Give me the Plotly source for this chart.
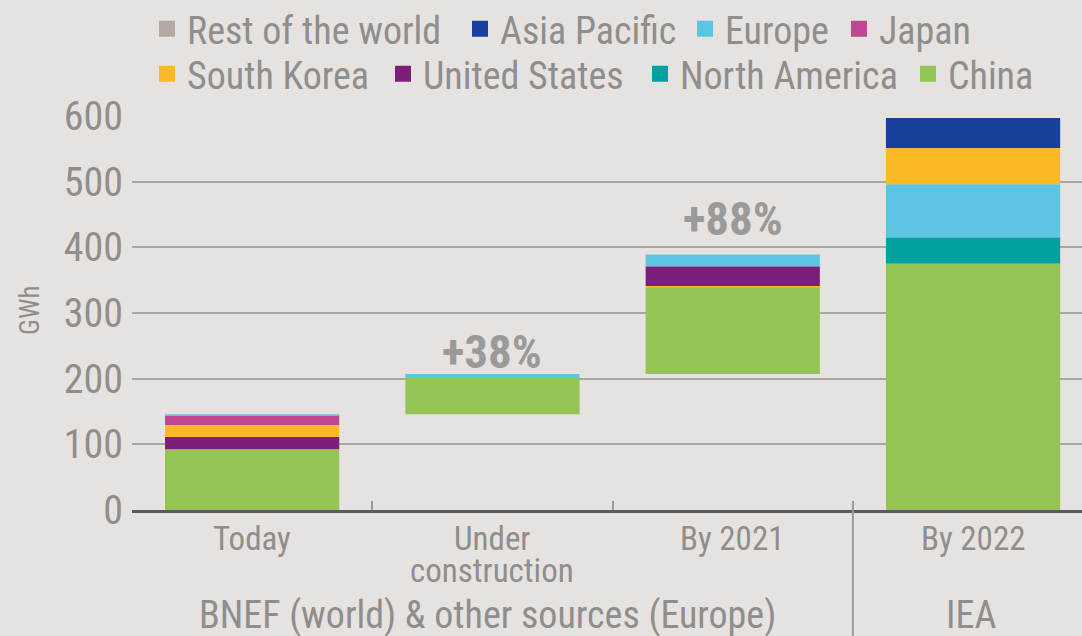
import plotly.graph_objects as go

# ---------------- data ----------------
categories = ["Today", "Under construction", "By 2021", "By 2022"]
tick_label_lines = [["Today"], ["Under", "construction"], ["By 2021"], ["By 2022"]]
china = [92, 55, 132, 375]
north_america = [0, 0, 0, 40]
united_states = [19, 0, 30, 0]
south_korea = [18, 0, 2, 55]
japan = [14, 0, 0, 0]
europe = [3, 6, 18, 81]
asia_pacific = [0, 0, 0, 46]
rest_of_world = [0, 0, 0, 0]
growth_labels = ["", "+38%", "+88%", ""]
group_labels = ["BNEF (world) & other sources (Europe)", "IEA"]
y_ticks = [0, 100, 200, 300, 400, 500, 600]

series = {
    "Rest of the world": rest_of_world,
    "Asia Pacific": asia_pacific,
    "Europe": europe,
    "Japan": japan,
    "South Korea": south_korea,
    "United States": united_states,
    "North America": north_america,
    "China": china,
}
colors = {
    "Rest of the world": "#b5a9a5",
    "Asia Pacific": "#17409a",
    "Europe": "#5ec4e3",
    "Japan": "#c1458f",
    "South Korea": "#fdb924",
    "United States": "#7b1f7b",
    "North America": "#00a2a0",
    "China": "#93c455",
}
# stacking order (bottom -> top) per bar, and whether the bar floats on the previous one
stack_order = [
    ["China", "United States", "South Korea", "Japan", "Europe"],
    ["China", "Europe"],
    ["China", "South Korea", "United States", "Europe"],
    ["China", "North America", "Europe", "South Korea", "Asia Pacific"],
]
floats_on_previous = [False, True, True, False]

# ---------------- layout geometry (pixels) ----------------
W, H = 1082, 636
ML, MR, MT, MB = 132, 0, 116, 126
PW, PH = W - ML - MR, H - MT - MB
# legend entries: (left of swatch, vertical centre) in pixels
legend_pos = {
    "Rest of the world": (157, 29), "Asia Pacific": (470, 29),
    "Europe": (695, 29), "Japan": (849, 29),
    "South Korea": (157, 74), "United States": (393, 74),
    "North America": (650, 74), "China": (918, 74),
}
label_shift_px = [0, 23, 36, 0]
FONT = "Liberation Sans Narrow, Roboto Condensed, Roboto, sans-serif"
GREY = "#8e8e8e"
BG = "#e6e2df"


def px_x(p):
    return (p - ML) / PW


def px_y(p):
    return (H - MB - p) / PH


# compute bases
bases = {name: [0.0] * len(categories) for name in series}
totals = []
prev_top = 0.0
for i in range(len(categories)):
    start = prev_top if floats_on_previous[i] else 0.0
    cur = start
    for name in stack_order[i]:
        bases[name][i] = cur
        cur += series[name][i]
    for name in series:
        if name not in stack_order[i]:
            bases[name][i] = cur
    totals.append(cur)
    prev_top = cur

fig = go.Figure()
legend_layouts = {}
for k, (name, vals) in enumerate(series.items()):
    lid = "legend" if k == 0 else f"legend{k + 1}"
    fig.add_trace(go.Bar(
        name=name, x=categories, y=vals, base=bases[name],
        marker=dict(color=colors[name], line=dict(width=0)),
        width=0.725, showlegend=False, legendgroup=name,
    ))
    # legend swatch (larger square than the default bar swatch)
    fig.add_trace(go.Scatter(
        name=name, x=[None], y=[None], mode="markers",
        marker=dict(symbol="square", size=20, color=colors[name], line=dict(width=0)),
        legend=lid, legendgroup=name, hoverinfo="skip",
    ))
    lx, ly = legend_pos[name]
    legend_layouts[lid] = dict(
        orientation="h", xanchor="left", yanchor="middle",
        x=px_x(lx - 10), y=px_y(ly),
        bgcolor="rgba(0,0,0,0)", borderwidth=0,
        font=dict(size=38, color=GREY, family=FONT), itemwidth=30,
    )

for i, lab in enumerate(growth_labels):
    if lab:
        fig.add_annotation(x=categories[i], y=totals[i], text="<b>" + lab + "</b>",
                           showarrow=False, xanchor="center", yanchor="middle",
                           yshift=label_shift_px[i],
                           font=dict(size=47, color="#9a9a9a", family=FONT))

# category labels (tight line spacing as in the reference)
for i, lines in enumerate(tick_label_lines):
    for j, line in enumerate(lines):
        fig.add_annotation(x=categories[i], yref="paper", y=px_y(538 + 32 * j),
                           text=line, showarrow=False, xanchor="center", yanchor="middle",
                           font=dict(size=33, color=GREY, family=FONT))

fig.add_annotation(xref="paper", yref="paper", x=px_x(487), y=px_y(615),
                   text=group_labels[0], showarrow=False, xanchor="center", yanchor="middle",
                   font=dict(size=38, color=GREY, family=FONT))
fig.add_annotation(xref="paper", yref="paper", x=px_x(971), y=px_y(615),
                   text=group_labels[1], showarrow=False, xanchor="center", yanchor="middle",
                   font=dict(size=38, color=GREY, family=FONT))
fig.add_annotation(xref="paper", yref="paper", x=px_x(30), y=px_y(310),
                   text="GWh", textangle=-90, showarrow=False,
                   xanchor="center", yanchor="middle",
                   font=dict(size=27, color=GREY, family=FONT))

# long separator line before IEA
fig.add_shape(type="line", xref="x", yref="paper", x0=2.5, x1=2.5,
              y0=px_y(502), y1=px_y(640), line=dict(color="#9a9a9a", width=2))

fig.update_layout(
    width=W, height=H,
    paper_bgcolor=BG, plot_bgcolor=BG,
    barmode="overlay",
    margin=dict(l=ML, r=MR, t=MT, b=MB, autoexpand=False),
    font=dict(family=FONT, color=GREY),
    showlegend=True,
    xaxis=dict(range=[-0.5, -0.5 + PW / 240.3], showgrid=False, showline=True,
               linecolor="#5a5a5a", linewidth=3, ticks="inside", ticklen=9,
               tickcolor="#9a9a9a", tickwidth=2, tickson="boundaries",
               showticklabels=False, zeroline=False, automargin=False),
    yaxis=dict(range=[0, 600], tickvals=y_ticks,
               showgrid=True, gridcolor="#a9a6a4", gridwidth=2,
               ticks="", ticklabelstandoff=8,
               tickfont=dict(size=40, color=GREY, family=FONT),
               zeroline=False, showline=False, automargin=False),
    **legend_layouts,
)

fig.write_html("out.html", config={"displayModeBar": False},
               post_script="document.body.style.margin='0';")
